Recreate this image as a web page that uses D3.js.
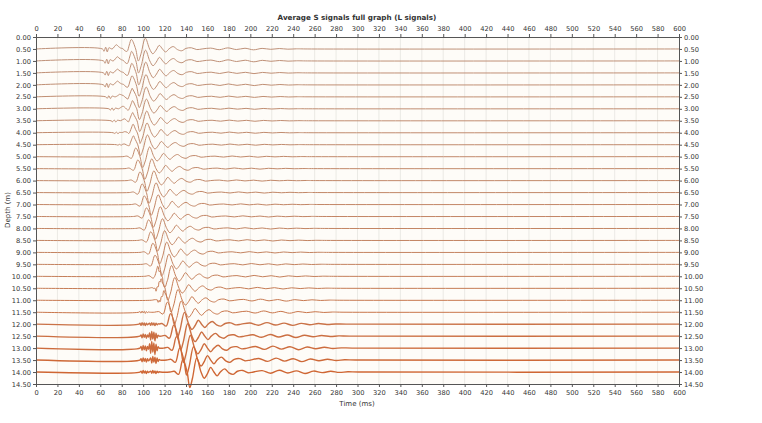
<!DOCTYPE html>
<html>
<head>
<meta charset="utf-8">
<script src="https://cdn.jsdelivr.net/npm/d3@7"></script>
<style>
  body { margin: 0; background: #fff; }
  svg text { font-family: "DejaVu Sans", sans-serif; fill: #333; }
</style>
</head>
<body>
<svg id="chart" width="762" height="423"></svg>
<script>
// 深度 (m)，每条曲线一个深度
var depths = [0.5, 1, 1.5, 2, 2.5, 3, 3.5, 4, 4.5, 5, 5.5, 6, 6.5, 7,
  7.5, 8, 8.5, 9, 9.5, 10, 10.5, 11, 11.5, 12, 12.5, 13, 13.5, 14]
// 主波下降过零时间 (ms)
var mainTime = [93, 93.2, 93.4, 93.6, 93.8, 94, 94.3, 94.6, 95, 97, 99, 101, 103, 105,
  107, 109, 111, 113, 115, 117.5, 120.5, 123.5, 126.5, 129.5, 132.5, 135, 138, 141]
// 主波幅度 (道间距单位)
var mainAmp = [1, 1, 1, 0.95, 0.9, 0.9, 0.9, 0.9, 0.9, 0.9, 0.9, 0.9, 0.9, 0.9,
  0.9, 0.9, 0.9, 0.95, 0.95, 1, 1, 1, 1.05, 1.1, 1.15, 1.2, 1.25, 1.3]
// 主波形状 (相对时间 ms / 数值)
var waveT = [-16, -12, -8, -4, 0, 2.5, 5, 9, 13, 16, 19, 22, 25, 28, 31, 35, 39, 43, 47, 52, 57, 62]
var waveV = [0, 0.05, -0.15, 0.8, 0, -1.0, -0.4, 0.9, 0, -0.4, -0.1, 0.3, 0, -0.25, 0, 0.2, -0.05, -0.15, 0.05, 0.1, -0.05, 0]
// 初至小波 (浅部)
var earlyTime = [62, 63, 63, 63, 65, 68, 70, 72, 75, 0, 0, 0, 0, 0,
  0, 0, 0, 0, 0, 0, 0, 0, 0, 0, 0, 0, 0, 0]
var earlyAmp = [1, 1, 0.9, 0.9, 0.6, 0.5, 0.4, 0.3, 0.2, 0, 0, 0, 0, 0,
  0, 0, 0, 0, 0, 0, 0, 0, 0, 0, 0, 0, 0, 0]
var earlyT = [0, 1.5, 3, 4.5, 6, 9, 13, 17, 21, 25]
var earlyV = [0, -0.2, 0.15, -0.25, 0.1, 0, 0.35, 0.05, -0.1, 0]
// 尾波
var codaAmp = [0.6, 0.6, 0.5, 0.5, 0.4, 0.35, 0.35, 0.35, 0.35, 0.35, 0.35, 0.35, 0.35, 0.35,
  0.35, 0.4, 0.4, 0.4, 0.45, 0.5, 0.5, 0.6, 0.7, 0.85, 0.95, 1.1, 1.1, 1.0]
var codaT = [62, 70, 78, 86, 94, 102, 110, 118, 126, 134, 142, 150, 160]
var codaV = [0, 0.12, -0.1, 0.15, -0.08, 0.1, -0.12, 0.08, -0.05, 0.06, -0.03, 0.02, 0]
// 高频干扰
var burstDepth = [10, 10.5, 11, 11.5, 12, 12, 12.5, 12.5, 13, 13, 13.5, 13.5, 14, 14]
var burstTime = [113, 110, 112, 96, 96, 105, 97, 105, 97, 105, 97, 106, 97, 106]
var burstAmp = [0.3, 0.3, 0.25, 0.2, 0.25, 0.25, 0.35, 0.8, 0.45, 1.1, 0.35, 0.6, 0.25, 0.25]
var burstT = [0, 1, 2, 3, 4, 5, 6, 7, 8, 9, 10]
var burstV = [0, 0.3, -0.4, 0.5, -0.3, 0.4, -0.5, 0.3, -0.2, 0.1, 0]
// 坐标轴刻度
var timeTicks = d3.range(0, 601, 20)
var depthTicks = d3.range(0, 14.51, 0.5)

var svg = d3.select('#chart')
var mLeft = 36, mRight = 679, mTop = 37, mBottom = 384

var x = d3.scaleLinear().domain([0, 600]).range([mLeft, mRight])
var y = d3.scaleLinear().domain([0, 14.5]).range([mTop, mBottom])

// 背景
svg.append('rect').attr('x', mLeft).attr('y', mTop)
  .attr('width', mRight - mLeft).attr('height', mBottom - mTop).attr('fill', '#fefcf8')

// 竖向网格
svg.append('g').selectAll('line').data(timeTicks.slice(1, -1)).join('line')
  .attr('x1', (d) => x(d)).attr('x2', (d) => x(d))
  .attr('y1', mTop).attr('y2', mBottom)
  .attr('stroke', '#e6e4e0').attr('stroke-width', 0.8)

// 每个分量做成一个线性比例尺
function part(t0, amp, T, V) {
  return { t0: t0, amp: amp, s: d3.scaleLinear().domain(T).range(V).clamp(true), T: T }
}

var traces = depths.map(function (d, i) {
  var parts = [part(mainTime[i], mainAmp[i], waveT, waveV),
    part(mainTime[i], codaAmp[i], codaT, codaV)]
  if (earlyAmp[i] > 0) parts.push(part(earlyTime[i], earlyAmp[i], earlyT, earlyV))
  burstDepth.forEach(function (bd, j) {
    if (bd === d) parts.push(part(burstTime[j], burstAmp[j], burstT, burstV))
  })
  var knots = [0, 600]
  parts.forEach((p) => p.T.forEach((t) => knots.push(p.t0 + t)))
  knots = Array.from(new Set(knots)).filter((t) => t >= 0 && t <= 600).sort((a, b) => a - b)
  var pts = knots.map(function (t) {
    var v = d3.sum(parts, (p) => p.s(t - p.t0) * p.amp)
    return [t, v]
  })
  return { depth: d, index: i, pts: pts }
})

var color = d3.scaleLinear().domain([0, 18, 27]).range(['#bf9178', '#c4825f', '#cf6633'])
var line = d3.line().curve(d3.curveCatmullRom.alpha(0.5))

svg.append('g').selectAll('path').data(traces).join('path')
  .attr('d', (tr) => line(tr.pts.map((p) => [x(p[0]), y(tr.depth - p[1] * 0.5)])))
  .attr('fill', 'none')
  .attr('stroke', (tr) => color(tr.index))
  .attr('stroke-width', (tr) => (tr.index > 22 ? 1.4 : 1))

// 坐标轴
var fmt = d3.format('.2f')
function styleAxis(g) {
  g.selectAll('path').attr('stroke', '#555')
  g.selectAll('line').attr('stroke', '#555')
  g.selectAll('text').attr('font-size', 6.7).attr('fill', '#444')
}
svg.append('g').attr('transform', `translate(0,${mTop})`)
  .call(d3.axisTop(x).tickValues(timeTicks).tickSize(3).tickPadding(3)).call(styleAxis)
svg.append('g').attr('transform', `translate(0,${mBottom})`)
  .call(d3.axisBottom(x).tickValues(timeTicks).tickSize(3).tickPadding(3)).call(styleAxis)
svg.append('g').attr('transform', `translate(${mLeft},0)`)
  .call(d3.axisLeft(y).tickValues(depthTicks).tickFormat(fmt).tickSize(3).tickPadding(2)).call(styleAxis)
svg.append('g').attr('transform', `translate(${mRight},0)`)
  .call(d3.axisRight(y).tickValues(depthTicks).tickFormat(fmt).tickSize(3).tickPadding(2)).call(styleAxis)

// 标题
svg.append('text').attr('x', 357).attr('y', 20).attr('text-anchor', 'middle')
  .attr('font-family', 'Liberation Sans, sans-serif').attr('font-weight', 'bold')
  .attr('font-size', 7.2).text('Average S signals full graph (L signals)')
svg.append('text').attr('x', 357).attr('y', 406).attr('text-anchor', 'middle')
  .attr('font-size', 7).text('Time (ms)')
svg.append('text').attr('transform', 'translate(10,210) rotate(-90)').attr('text-anchor', 'middle')
  .attr('font-size', 7).text('Depth (m)')
</script>
</body>
</html>
